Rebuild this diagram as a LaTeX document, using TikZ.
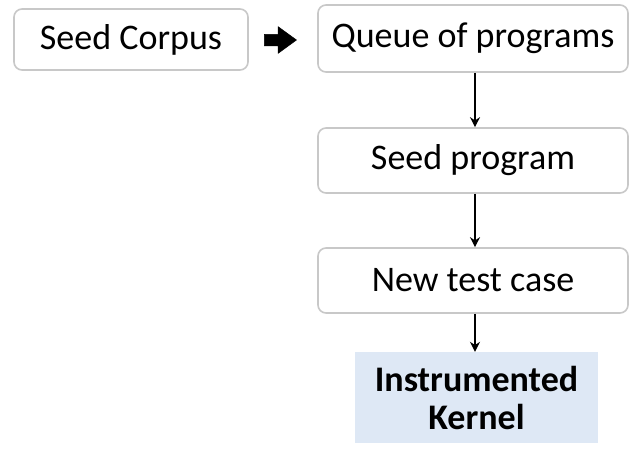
\documentclass[tikz,border=0pt]{standalone}
\usepackage{fontspec}
\setmainfont{Carlito}
\usetikzlibrary{shapes.arrows,arrows.meta}
\definecolor{boxedge}{HTML}{C8C8C8}
\definecolor{kernelfill}{HTML}{DEE8F5}
\tikzset{
  stepbox/.style={draw=boxedge, line width=1.6pt, rounded corners=8pt, fill=white,
    inner sep=0pt, font=\fontsize{36}{40}\selectfont},
  flow/.style={-{Stealth[length=10pt,width=10pt]}, line width=1.2pt},
  fatarrow/.style={single arrow, fill=black, draw=black, line width=0.5pt,
    minimum height=32pt, inner xsep=0pt, inner ysep=5.5pt,
    single arrow head extend=7.5pt, single arrow tip angle=72},
}
\begin{document}
\begin{tikzpicture}[x=1pt,y=1pt]
\useasboundingbox (0,0) rectangle (630,-451);
\node[stepbox, minimum width=234pt, minimum height=61pt] (corpus) at (131,-39.5) {Seed Corpus};
\node[fatarrow] (push) at (276.5,-40) {};
\node[stepbox, minimum width=310pt, minimum height=67pt] (queue) at (473,-38.5) {Queue of programs};
\node[stepbox, minimum width=310pt, minimum height=65pt] (seed) at (473,-160.5) {Seed program};
\node[stepbox, minimum width=310pt, minimum height=65pt] (newcase) at (473,-280.5) {New test case};
\node[fill=kernelfill, minimum width=243pt, minimum height=91pt, inner sep=0pt,
  align=center, font=\fontsize{36}{38}\selectfont\bfseries] (kernel) at (476.5,-397.5) {Instrumented\\Kernel};
\draw[flow] (queue.south -| 475,0) -- (seed.north -| 475,0);
\draw[flow] (seed.south -| 475,0) -- (newcase.north -| 475,0);
\draw[flow] (newcase.south -| 475,0) -- (kernel.north -| 475,0);
\end{tikzpicture}
\end{document}
